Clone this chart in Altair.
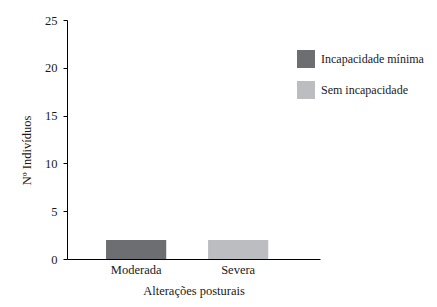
import altair as alt
import pandas as pd

categories = ["Moderada", "Severa"]
series = ["Incapacidade mínima", "Sem incapacidade"]
values = [2, 2]
colors = ["#6d6e71", "#bcbdc0"]

df = pd.DataFrame({"cat": categories, "serie": series, "val": values})

FONT = "Liberation Serif"

chart = alt.Chart(df).mark_bar().encode(
    x=alt.X("cat:N", sort=categories,
            scale=alt.Scale(paddingInner=0.41, paddingOuter=0.445, align=0.43),
            axis=alt.Axis(title="Alterações posturais", labelAngle=0, ticks=False,
                          labelPadding=4, titlePadding=9, domainColor="#000",
                          labelColor="#1a1a1a", titleColor="#1a1a1a",
                          labelFont=FONT, titleFont=FONT, labelFontSize=12.5,
                          titleFontSize=12.5, titleFontWeight="normal")),
    y=alt.Y("val:Q", scale=alt.Scale(domain=[0, 25]),
            axis=alt.Axis(title="Nº Indivíduos", values=[0, 5, 10, 15, 20, 25],
                          grid=False, tickSize=4, tickColor="#000", domainColor="#000",
                          labelPadding=6, labelColor="#1a1a1a", titleColor="#1a1a1a",
                          labelFont=FONT, titleFont=FONT, labelFontSize=12.5,
                          titleFontSize=12.5, titleFontWeight="normal",
                          titleX=-41, titleY=130, titleBaseline="middle", titleAlign="center")),
    color=alt.Color("serie:N", sort=series,
                    scale=alt.Scale(domain=series, range=colors),
                    legend=alt.Legend(title=None, orient="none", legendX=230, legendY=30,
                                      symbolType="square", symbolSize=324, symbolStrokeWidth=0,
                                      rowPadding=13, labelOffset=6, padding=0,
                                      labelFont=FONT, labelFontSize=12, labelColor="#1a1a1a")),
).properties(
    width=253, height=239,
    autosize=alt.AutoSizeParams(type="none"),
    padding={"left": 59, "top": 12, "right": 108, "bottom": 40},
).configure_view(stroke=None)

chart.save("out.html", embed_options={"renderer": "svg", "actions": False})
